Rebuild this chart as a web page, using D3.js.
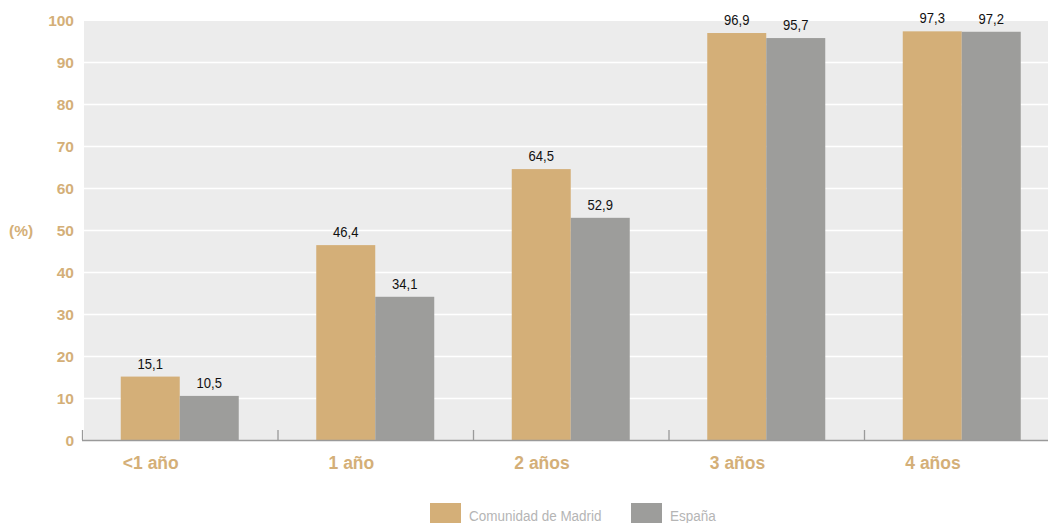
<!DOCTYPE html>
<html><head><meta charset="utf-8">
<script src="https://cdn.jsdelivr.net/npm/d3@7"></script>
<style>
html,body{margin:0;padding:0;background:#fff;}
svg{display:block;}
text{font-family:"Liberation Sans","Arial",sans-serif;}
</style></head>
<body>
<svg id="c" width="1048" height="523"></svg>
<script>
const categories = ["<1 año", "1 año", "2 años", "3 años", "4 años"];
const seriesNames = ["Comunidad de Madrid", "España"];
const madrid = [15.1, 46.4, 64.5, 96.9, 97.3];
const espana = [10.5, 34.1, 52.9, 95.7, 97.2];
const yTicks = [0, 10, 20, 30, 40, 50, 60, 70, 80, 90, 100];
const colors = ["#d4af78", "#9d9d9b"];

const fmt = v => d3.format(".1f")(v).replace(".", ",");
const svg = d3.select("#c");
const W = 1048;
const x = d3.scaleBand().domain(categories).range([82, 82 + 5 * 195.5]).padding(0);
const y = d3.scaleLinear().domain([0, 100]).range([440, 20]);
const barW = 59;
const xs = d3.scaleBand().domain(seriesNames).range([0, barW * 2]);
const NARROW = 0.87;

// plot background
svg.append("rect").attr("x", 84).attr("y", y(100) + 1).attr("width", W - 84).attr("height", y(0) - y(100) - 1).attr("fill", "#ececec");

// gridlines
svg.append("g").selectAll("line").data(yTicks.filter(d => d > 0 && d < 100)).join("line")
  .attr("x1", 84).attr("x2", W).attr("y1", d => y(d) + 0.5).attr("y2", d => y(d) + 0.5)
  .attr("stroke", "#fff").attr("stroke-width", 1.3);

// y axis labels
const yAxis = d3.axisLeft(y).tickValues(yTicks).tickSize(0).tickPadding(0);
const gy = svg.append("g").attr("transform", "translate(74,0)").call(yAxis);
gy.select(".domain").remove();
gy.selectAll("text").attr("fill", "#d4af78").attr("font-size", 15.5).attr("font-weight", "bold")
  .attr("dy", "0.38em")
  .attr("font-family", "'Liberation Sans',Arial,sans-serif");

svg.append("text").attr("x", 9).attr("y", 236).attr("fill", "#d4af78").attr("font-size", 15.5)
  .attr("font-weight", "bold").text("(%)");

// bars
const data = categories.map((c, i) => ({c, vals: [madrid[i], espana[i]]}));
const groups = svg.append("g").selectAll("g").data(data).join("g")
  .attr("transform", d => `translate(${x(d.c) + x.bandwidth() / 2 - barW},0)`);
groups.selectAll("rect").data(d => d.vals.map((v, j) => ({v, s: seriesNames[j], j}))).join("rect")
  .attr("x", d => xs(d.s)).attr("width", xs.bandwidth())
  .attr("y", d => y(d.v)).attr("height", d => y(0) - y(d.v))
  .attr("fill", d => colors[d.j]);
groups.selectAll("text.val").data(d => d.vals.map((v, j) => ({v, s: seriesNames[j], j}))).join("text")
  .attr("class", "val")
  .attr("transform", d => `translate(${xs(d.s) + xs.bandwidth() / 2},${y(d.v) - 8}) scale(${NARROW},1)`)
  .attr("text-anchor", "middle").attr("font-size", 15).attr("fill", "#111")
  .text(d => fmt(d.v));

// x axis
const gx = svg.append("g").attr("transform", "translate(0,440)");
gx.append("line").attr("x1", 82).attr("x2", W).attr("y1", 0.5).attr("y2", 0.5).attr("stroke", "#9a9a9a").attr("stroke-width", 1.5);
gx.selectAll("line.tk").data(categories).join("line").attr("class", "tk")
  .attr("x1", d => x(d) + 0.5).attr("x2", d => x(d) + 0.5).attr("y1", 0).attr("y2", -10)
  .attr("stroke", "#9a9a9a").attr("stroke-width", 1.3);
gx.selectAll("text").data(categories).join("text")
  .attr("x", d => x(d) + x.bandwidth() / 2 - 1).attr("y", 29)
  .attr("text-anchor", "end").attr("font-size", 17.5).attr("font-weight", "bold").attr("fill", "#d4af78")
  .text(d => d);

// legend
const legX = [430, 631];
const lg = svg.append("g").selectAll("g").data(seriesNames).join("g")
  .attr("transform", (d, i) => `translate(${legX[i]},503)`);
lg.append("rect").attr("width", 31).attr("height", 22).attr("fill", (d, i) => colors[i]);
lg.append("text").attr("transform", `translate(39,17.7) scale(${NARROW},1)`)
  .attr("font-size", 15.5).attr("fill", "#b5b5b5").text(d => d);
</script>
</body></html>
